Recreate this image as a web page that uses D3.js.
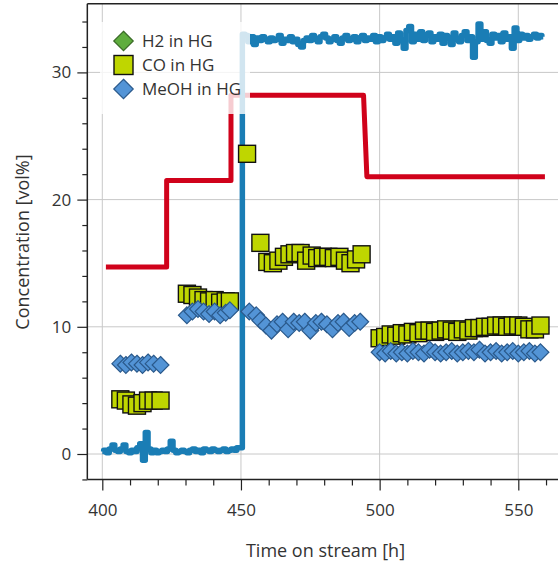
<!DOCTYPE html>
<html>
<head>
<meta charset="utf-8">
<script src="https://cdn.jsdelivr.net/npm/d3@7/dist/d3.min.js"></script>
<style>
  html, body { margin: 0; padding: 0; background: #fff; }
  svg { display: block; font-family: "Open Sans", "Noto Sans", sans-serif; }
</style>
</head>
<body>
<svg id="chart" width="558" height="564"></svg>
<script>
// ---- data -------------------------------------------------------------
const seriesNames = ["H2 in HG", "CO in HG", "MeOH in HG"];

// online analyser trace, sampled hourly
const traceLowStart = 400;
const traceLow = [0.2, 0.3, 0.1, 0.4, 0.7, 0.3, 0.2, 0.4, 0.7, 0.2,
                  0.1, 0.3, 0.2, 0.5, 0.8, -0.5, 1.7, 0.4, 0.1, 0.3,
                  0.1, 0.2, 0.3, 0.2, 0.4, 1.0, 0.3, 0.1, 0.2, 0.3,
                  0.2, 0.1, 0.3, 0.4, 0.2, 0.3, 0.1, 0.4, 0.3, 0.2,
                  0.4, 0.3, 0.2, 0.3, 0.4, 0.2, 0.3, 0.4, 0.3, 0.5, 0.5];
const traceHighStart = 451;
const traceHigh = [33.0, 32.9, 32.4, 32.8, 32.2, 32.7, 32.5, 32.8, 32.6, 32.4,
                   32.7, 32.5, 32.6, 32.9, 32.3, 32.6, 32.5, 32.8, 32.4, 32.6,
                   32.2, 32.0, 32.5, 32.7, 32.5, 32.9, 32.6, 32.4, 32.8, 33.0,
                   32.7, 32.4, 32.6, 32.8, 32.5, 32.3, 32.7, 32.9, 32.5, 32.6,
                   32.8, 32.4, 32.7, 32.9, 32.5, 32.7, 32.6, 32.9, 32.4, 32.8,
                   32.5, 32.7, 33.0, 32.6, 32.8, 32.3, 33.1, 32.5, 31.9, 33.3,
                   33.6, 32.4, 33.0, 32.6, 33.2, 32.5, 32.9, 33.1, 32.4, 32.8,
                   32.6, 33.0, 32.3, 32.9, 32.7, 32.2, 33.1, 32.6, 32.4, 32.9,
                   33.2, 32.5, 32.8, 31.2, 32.4, 33.8, 32.6, 33.2, 32.5, 32.3,
                   33.0, 32.7, 32.9, 32.4, 33.1, 32.6, 32.8, 31.9, 33.5, 32.5,
                   33.0, 32.7, 32.9, 32.6, 32.8, 33.0, 32.7, 32.9, 32.8];

// set-point step profile (corner points)
const stepHours  = [401.3, 423.2, 423.2, 446.4, 446.4, 494.2, 495.4, 559.6];
const stepValues = [14.7, 14.7, 21.5, 21.5, 28.2, 28.2, 21.8, 21.8];

// CO in HG
const coHours  = [406.5, 408.5, 410.5, 412.5, 414.5, 416.5, 418.5, 421,
                  430.5, 432.5, 434.5, 436.5, 438.5, 440.5, 442.5, 444.5, 446,
                  452.2, 457,
                  459.5, 461.5, 463.5, 465.5, 467.5, 469.5, 471.5, 473.5, 475.5,
                  477.5, 479.5, 481.5, 483.5, 485.5, 487.5, 489.5, 491.5, 493.5,
                  500, 502, 504, 506, 508, 510, 512, 514, 516, 518, 520, 522, 524,
                  526, 528, 530, 532, 534, 536, 538, 540, 542, 544, 546, 548, 550,
                  552, 554, 556, 558];
const coValues = [4.3, 4.2, 3.9, 3.8, 4.0, 4.2, 4.2, 4.2,
                  12.6, 12.5, 12.3, 12.1, 12.0, 12.1, 11.9, 12.0, 12.0,
                  23.6, 16.6,
                  15.1, 15.0, 15.2, 15.5, 15.7, 15.8, 15.8, 15.2, 15.6,
                  15.4, 15.5, 15.5, 15.4, 15.5, 15.2, 15.0, 15.3, 15.7,
                  9.1, 9.2, 9.4, 9.3, 9.5, 9.4, 9.6, 9.5, 9.7, 9.7, 9.6, 9.7, 9.8,
                  9.7, 9.6, 9.8, 9.7, 9.9, 9.9, 10.0, 10.0, 10.1, 10.1, 10.0, 10.1, 10.1,
                  10.0, 9.8, 9.8, 10.1];

// MeOH in HG
const meohHours  = [406.5, 408.5, 410.5, 412.5, 414.5, 416.5, 418.5, 421,
                    430.5, 432.5, 434.5, 436.5, 438.5, 440.5, 442.5, 444.5, 446,
                    453, 455.5, 457, 459, 461, 463, 465, 467, 469, 471, 473, 475,
                    477, 479, 481, 483, 485, 487, 489, 491, 493,
                    500, 502, 504, 506, 508, 510, 512, 514, 516, 518, 520, 522, 524,
                    526, 528, 530, 532, 534, 536, 538, 540, 542, 544, 546, 548, 550,
                    552, 554, 556, 558];
const meohValues = [7.1, 7.0, 7.2, 7.1, 7.0, 7.2, 7.1, 7.0,
                    10.9, 11.2, 11.4, 11.2, 11.0, 11.2, 10.9, 11.1, 11.3,
                    11.2, 10.9, 10.5, 10.1, 9.7, 10.2, 10.4, 9.8, 10.4, 10.3, 10.4, 9.7,
                    10.3, 10.4, 10.2, 9.8, 10.3, 10.4, 9.9, 10.3, 10.4,
                    8.0, 7.9, 8.1, 7.9, 8.0, 7.9, 8.1, 8.0, 7.9, 8.2, 8.0, 7.9, 8.0,
                    8.1, 7.9, 8.0, 8.1, 8.0, 8.2, 7.9, 8.0, 8.1, 7.9, 8.0, 8.1, 7.9,
                    8.0, 8.1, 7.9, 8.0];

const xMajorTicks = [400, 450, 500, 550];
const yMajorTicks = [0, 10, 20, 30];
const xTitle = "Time on stream [h]";
const yTitle = "Concentration [vol%]";

(function draw() {
  // ---- layout ---------------------------------------------------------
  const svg = d3.select("#chart");
  const x = d3.scaleLinear().domain([400, 550]).range([102.3, 518.3]);
  const y = d3.scaleLinear().domain([0, 30]).range([454, 72.4]);
  const xLo = 394.6, xHi = 568, yLo = -2, yHi = 35.4;
  const pLeft = x(xLo), pRight = x(xHi), pTop = y(yHi), pBottom = y(yLo);

  const textColor = "#333";
  const gridColor = "#c8c8c8";
  const axisColor = "#222";

  svg.append("defs").append("clipPath").attr("id", "plot-clip")
    .append("rect").attr("x", pLeft).attr("y", pTop)
    .attr("width", pRight - pLeft).attr("height", pBottom - pTop);

  // grid
  const grid = svg.append("g");
  grid.selectAll("line.vx").data(xMajorTicks).join("line")
    .attr("x1", d => x(d)).attr("x2", d => x(d))
    .attr("y1", pTop).attr("y2", pBottom)
    .attr("stroke", gridColor).attr("stroke-width", 1);
  grid.selectAll("line.hy").data(yMajorTicks).join("line")
    .attr("x1", pLeft).attr("x2", pRight)
    .attr("y1", d => y(d)).attr("y2", d => y(d))
    .attr("stroke", gridColor).attr("stroke-width", 1);

  // axes
  const xAxis = d3.axisBottom(x).tickValues(xMajorTicks).tickSize(11).tickPadding(13)
    .tickFormat(d3.format("d"));
  const xMinor = d3.axisBottom(x).tickValues(d3.range(410, 561, 10).filter(v => v % 50 !== 0))
    .tickSize(6).tickFormat("");
  const yAxis = d3.axisLeft(y).tickValues(yMajorTicks).tickSize(10).tickPadding(6)
    .tickFormat(d3.format("d"));
  const yMinor = d3.axisLeft(y).tickValues(d3.range(-2, 35, 2).filter(v => v % 10 !== 0))
    .tickSize(5).tickFormat("");

  function styleAxis(g) {
    g.select(".domain").remove();
    g.selectAll(".tick line").attr("stroke", axisColor).attr("stroke-width", 1.2);
    g.selectAll(".tick text").attr("fill", textColor)
      .style("font-size", "17px").style("font-family", "'Open Sans', sans-serif");
  }
  svg.append("g").attr("transform", `translate(0,${pBottom})`).call(xAxis).call(styleAxis);
  svg.append("g").attr("transform", `translate(0,${pBottom})`).call(xMinor).call(styleAxis);
  svg.append("g").attr("transform", `translate(${pLeft},0)`).call(yAxis).call(styleAxis);
  svg.append("g").attr("transform", `translate(${pLeft},0)`).call(yMinor).call(styleAxis);

  // data layer
  const plot = svg.append("g").attr("clip-path", "url(#plot-clip)");

  const line = d3.line().x(d => x(d[0])).y(d => y(d[1]));
  plot.append("path")
    .datum(stepHours.map((h, i) => [h, stepValues[i]]))
    .attr("d", line).attr("fill", "none")
    .attr("stroke", "#d0021b").attr("stroke-width", 5)
    .attr("stroke-linejoin", "round");

  // analyser trace drawn as held samples
  const traceLine = d3.line().x(d => x(d[0])).y(d => y(d[1])).curve(d3.curveStep);
  const trace = traceLow.map((v, i) => [traceLowStart + i, v])
    .concat(traceHigh.map((v, i) => [traceHighStart + i, v]));
  plot.append("path")
    .datum(trace)
    .attr("d", traceLine).attr("fill", "none")
    .attr("stroke", "#1a7db5").attr("stroke-width", 5.5)
    .attr("stroke-linejoin", "round");

  const sq = 17;
  plot.selectAll("rect.co").data(coHours.map((h, i) => [h, coValues[i]])).join("rect")
    .attr("x", d => x(d[0]) - sq / 2).attr("y", d => y(d[1]) - sq / 2)
    .attr("width", sq).attr("height", sq)
    .attr("fill", "#bfd600").attr("stroke", "#111").attr("stroke-width", 1.4);

  const diamond = d3.symbol().type(d3.symbolDiamond2).size(9.5 * 9.5 * 2);
  plot.selectAll("path.meoh").data(meohHours.map((h, i) => [h, meohValues[i]])).join("path")
    .attr("d", diamond)
    .attr("transform", d => `translate(${x(d[0])},${y(d[1])})`)
    .attr("fill", "#5394d6").attr("stroke", "#2b5a8c").attr("stroke-width", 1.2);

  // legend
  const legend = svg.append("g");
  legend.append("rect").attr("x", 100).attr("y", 22).attr("width", 150).attr("height", 92)
    .attr("fill", "#fff").attr("fill-opacity", 0.8);
  const legendY = [41, 65, 89];
  const legendStyles = [
    { shape: "diamond", fill: "#5fad3e", stroke: "#3a6b27" },
    { shape: "square", fill: "#bfd600", stroke: "#111" },
    { shape: "diamond", fill: "#5394d6", stroke: "#2b5a8c" }
  ];
  seriesNames.forEach((name, i) => {
    const st = legendStyles[i];
    if (st.shape === "square") {
      legend.append("rect").attr("x", 123.5 - 9.5).attr("y", legendY[i] - 9.5)
        .attr("width", 19).attr("height", 19)
        .attr("fill", st.fill).attr("stroke", st.stroke).attr("stroke-width", 1.4);
    } else {
      legend.append("path").attr("d", d3.symbol().type(d3.symbolDiamond2).size(11 * 11 * 2))
        .attr("transform", `translate(123.5,${legendY[i]})`)
        .attr("fill", st.fill).attr("stroke", st.stroke).attr("stroke-width", 1.2);
    }
    legend.append("text").attr("x", 142).attr("y", legendY[i])
      .attr("dy", "0.35em").attr("fill", textColor)
      .style("font-size", "17px").text(name);
  });

  // frame: left, top and bottom edges
  svg.append("line").attr("x1", pLeft).attr("x2", pLeft).attr("y1", pTop).attr("y2", pBottom)
    .attr("stroke", axisColor).attr("stroke-width", 1.5);
  svg.append("line").attr("x1", pLeft).attr("x2", pRight).attr("y1", pTop).attr("y2", pTop)
    .attr("stroke", axisColor).attr("stroke-width", 1.5);
  svg.append("line").attr("x1", pLeft).attr("x2", pRight).attr("y1", pBottom).attr("y2", pBottom)
    .attr("stroke", axisColor).attr("stroke-width", 1.5);

  // titles
  svg.append("text").attr("x", 325.5).attr("y", 551).attr("dy", "0.35em")
    .attr("text-anchor", "middle").attr("fill", textColor)
    .style("font-size", "18px").text(xTitle);
  svg.append("text").attr("transform", "translate(23,242) rotate(-90)")
    .attr("dy", "0.35em").attr("text-anchor", "middle").attr("fill", textColor)
    .style("font-size", "18px").text(yTitle);
})();
</script>
</body>
</html>
